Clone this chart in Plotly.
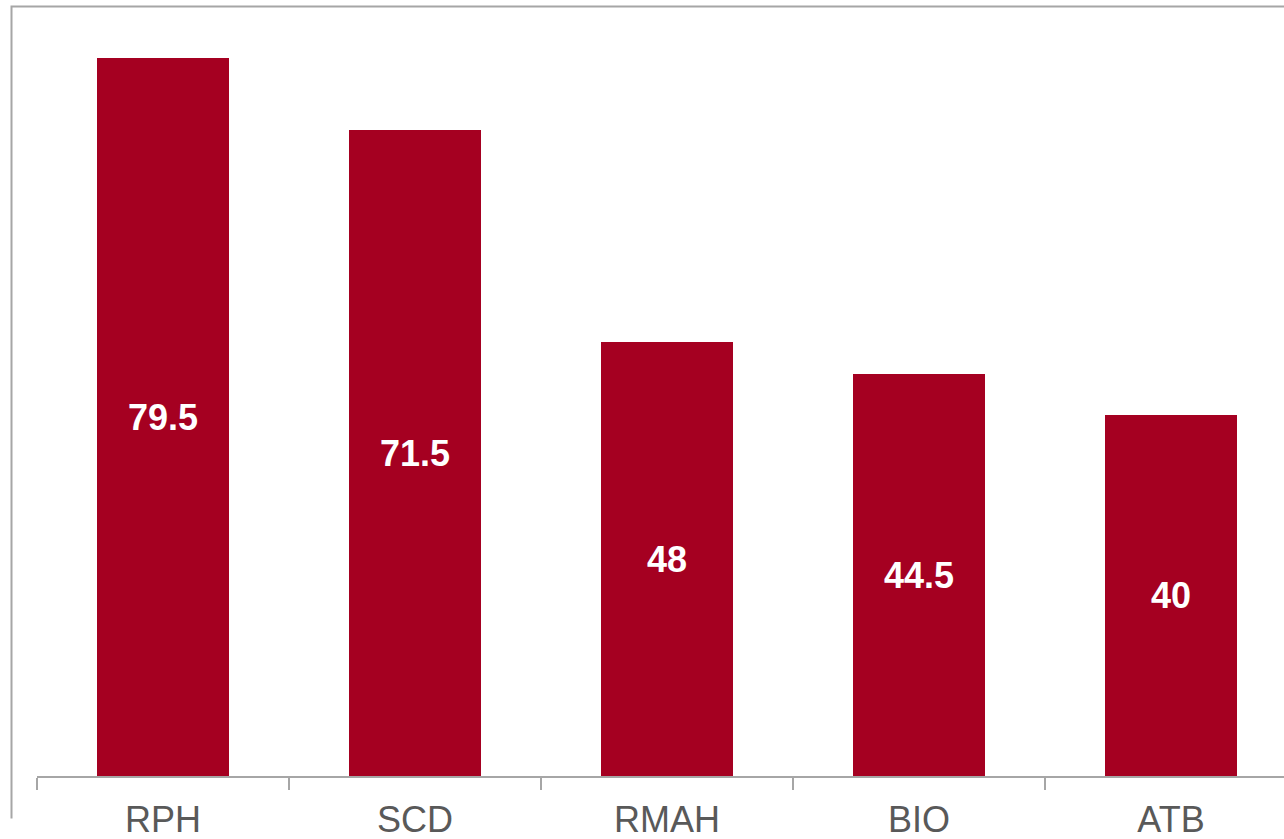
import plotly.graph_objects as go

categories = ["RPH", "SCD", "RMAH", "BIO", "ATB"]
values = [79.5, 71.5, 48, 44.5, 40]

BAR_COLOR = "#A50021"
AXIS_GRAY = "#A6A6A6"
LABEL_GRAY = "#595959"

W, H = 1284, 839
ML, MB = 37, 62.5
plot_w = W - ML
plot_h = H - MB
px_per_cat = 252.0
px_per_unit = 9.04

fig = go.Figure(
    go.Bar(
        x=categories,
        y=values,
        width=0.524,
        marker=dict(color=BAR_COLOR, line=dict(width=0)),
        text=[f"{v:g}" for v in values],
        textposition="inside",
        insidetextanchor="middle",
        textangle=0,
        textfont=dict(family="Liberation Sans, Arial, sans-serif", size=36, color="white", weight="bold"),
        constraintext="none",
        hoverinfo="skip",
    )
)

# chart-area frame (left and top edges)
def px_x(p):
    return (p - ML) / plot_w

def px_y(p):
    return (plot_h - p) / plot_h

fig.add_shape(
    type="path",
    xref="paper", yref="paper",
    path=f"M {px_x(11.5)} {px_y(819)} L {px_x(11.5)} {px_y(6.5)} L {px_x(1290)} {px_y(6.5)}",
    line=dict(color=AXIS_GRAY, width=2),
)

fig.update_layout(
    width=W, height=H,
    margin=dict(l=ML, r=0, t=0, b=MB, pad=0),
    paper_bgcolor="white",
    plot_bgcolor="white",
    showlegend=False,
    bargap=0,
    xaxis=dict(
        type="category",
        range=[-0.5, -0.5 + plot_w / px_per_cat],
        showline=True, linecolor=AXIS_GRAY, linewidth=2,
        ticks="outside", tickson="boundaries", ticklen=12, tickwidth=2, tickcolor=AXIS_GRAY,
        ticklabelstandoff=11,
        tickfont=dict(family="Liberation Sans, Arial, sans-serif", size=36, color=LABEL_GRAY),
        showgrid=False, zeroline=False,
    ),
    yaxis=dict(
        range=[0, plot_h / px_per_unit],
        visible=False,
        showgrid=False, zeroline=False,
    ),
)

fig.write_html("out.html")
